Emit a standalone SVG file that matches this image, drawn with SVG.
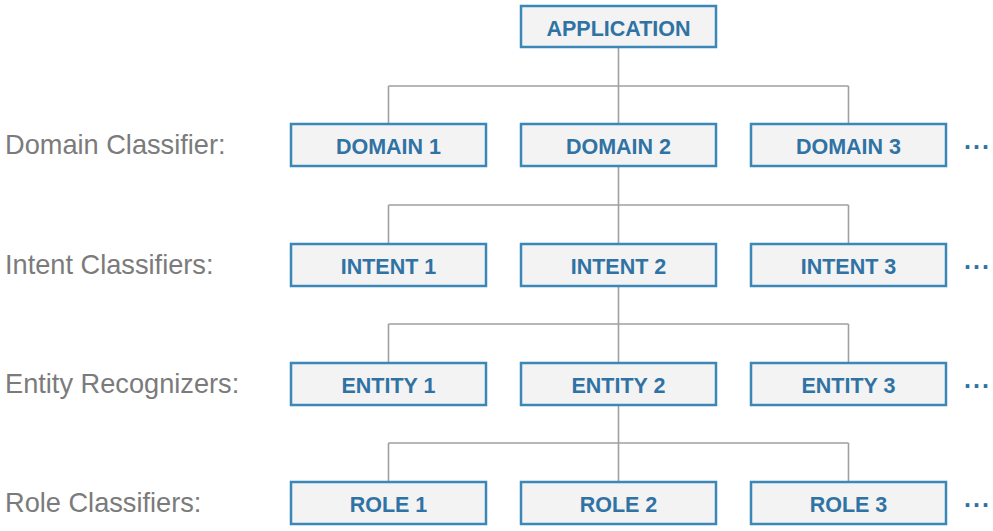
<svg xmlns="http://www.w3.org/2000/svg" width="993" height="531" viewBox="0 0 993 531">
<style>
.box{fill:#f3f3f3;stroke:#3a87b8;stroke-width:2.5}
.bt{font-family:"Liberation Sans",Arial,sans-serif;font-weight:bold;font-size:21.5px;fill:#2f72a3;text-anchor:middle}
.lab{font-family:"Liberation Sans",Arial,sans-serif;font-size:27.2px;fill:#7b7b7b}
.dots{font-family:"Liberation Sans",Arial,sans-serif;font-weight:bold;font-size:25px;fill:#2f72a3;letter-spacing:2px}
.ln{fill:none;stroke:#a0a0a0;stroke-width:1.6}
</style>
<rect width="993" height="531" fill="#ffffff"/>
<g id="connectors">
<path class="ln" d="M618.5 47V124M388.5 86H848.5M388.5 86V124M848.5 86V124"/>
<path class="ln" d="M618.5 166V244M388.5 205H848.5M388.5 205V244M848.5 205V244"/>
<path class="ln" d="M618.5 286V363M388.5 324H848.5M388.5 324V363M848.5 324V363"/>
<path class="ln" d="M618.5 405V482M388.5 443H848.5M388.5 443V482M848.5 443V482"/>
</g>
<g id="labels">
<text class="lab" x="5" y="154">Domain Classifier:</text>
<text class="lab" x="5" y="274">Intent Classifiers:</text>
<text class="lab" x="5" y="393">Entity Recognizers:</text>
<text class="lab" x="5" y="512">Role Classifiers:</text>
<text class="dots" x="964" y="149">...</text>
<text class="dots" x="964" y="269">...</text>
<text class="dots" x="964" y="388">...</text>
<text class="dots" x="964" y="507">...</text>
</g>
<g id="application"><rect class="box" x="521" y="6" width="195" height="41"/><text class="bt" x="618.5" y="35.5">APPLICATION</text></g>
<g id="domain1"><rect class="box" x="291" y="124" width="195" height="42"/><text class="bt" x="388.5" y="153.5">DOMAIN 1</text></g>
<g id="domain2"><rect class="box" x="521" y="124" width="195" height="42"/><text class="bt" x="618.5" y="153.5">DOMAIN 2</text></g>
<g id="domain3"><rect class="box" x="751" y="124" width="195" height="42"/><text class="bt" x="848.5" y="153.5">DOMAIN 3</text></g>
<g id="intent1"><rect class="box" x="291" y="244" width="195" height="42"/><text class="bt" x="388.5" y="273.5">INTENT 1</text></g>
<g id="intent2"><rect class="box" x="521" y="244" width="195" height="42"/><text class="bt" x="618.5" y="273.5">INTENT 2</text></g>
<g id="intent3"><rect class="box" x="751" y="244" width="195" height="42"/><text class="bt" x="848.5" y="273.5">INTENT 3</text></g>
<g id="entity1"><rect class="box" x="291" y="363" width="195" height="42"/><text class="bt" x="388.5" y="392.5">ENTITY 1</text></g>
<g id="entity2"><rect class="box" x="521" y="363" width="195" height="42"/><text class="bt" x="618.5" y="392.5">ENTITY 2</text></g>
<g id="entity3"><rect class="box" x="751" y="363" width="195" height="42"/><text class="bt" x="848.5" y="392.5">ENTITY 3</text></g>
<g id="role1"><rect class="box" x="291" y="482" width="195" height="42"/><text class="bt" x="388.5" y="511.5">ROLE 1</text></g>
<g id="role2"><rect class="box" x="521" y="482" width="195" height="42"/><text class="bt" x="618.5" y="511.5">ROLE 2</text></g>
<g id="role3"><rect class="box" x="751" y="482" width="195" height="42"/><text class="bt" x="848.5" y="511.5">ROLE 3</text></g>
</svg>
